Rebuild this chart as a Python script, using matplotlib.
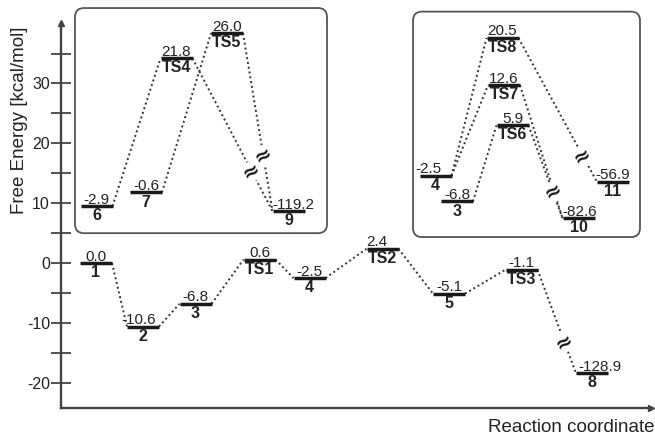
import matplotlib
matplotlib.use("Agg")
import matplotlib.pyplot as plt
from matplotlib.patches import FancyBboxPatch
import numpy as np

plt.rcParams['font.family'] = ['Liberation Sans', 'DejaVu Sans']

# ---------------- data ----------------
# main pathway
main_names = ['1', '2', '3', 'TS1', '4', 'TS2', '5', 'TS3', '8']
main_values = [0.0, -10.6, -6.8, 0.6, -2.5, 2.4, -5.1, -1.1, -128.9]
main_plot_y = [0.0, -10.6, -6.8, 0.6, -2.5, 2.4, -5.1, -1.1, -18.4]   # 8 drawn with axis break
main_x = [35, 82, 134.5, 198.5, 248.5, 321.5, 388, 460.5, 531]
main_links = [(0, 1), (1, 2), (2, 3), (3, 4), (4, 5), (5, 6), (6, 7), (7, 8)]
main_breaks = [(7, 8, 0.70)]

# left inset
left_names = ['6', '7', 'TS4', 'TS5', '9']
left_values = [-2.9, -0.6, 21.8, 26.0, -119.2]
left_plot_y = [-2.9, -0.6, 21.8, 26.0, -3.7]
left_x = [35.5, 85, 115.5, 166, 227.5]
left_offset = 12.4
left_links = [(0, 2), (1, 3), (2, 4), (3, 4)]
left_breaks = [(2, 4, 0.74), (3, 4, 0.69)]

# right inset
right_names = ['4', '3', 'TS8', 'TS7', 'TS6', '10', '11']
right_values = [-2.5, -6.8, 20.5, 12.6, 5.9, -82.6, -56.9]
right_plot_y = [-2.5, -6.8, 20.5, 12.6, 5.9, -9.6, -3.55]
right_x = [374.5, 396, 441.5, 443, 451.5, 517.5, 552]
right_offset = 17.1
right_links = [(0, 2), (0, 3), (1, 4), (2, 6), (3, 5), (4, 5)]
right_breaks = [(2, 6, 0.82), (3, 5, 0.80)]

y_major = [-20, -10, 0, 10, 20, 30]
y_minor = [-15, -5, 5, 15, 25, 35]

# ---------------- figure ----------------
W, H = 655, 437
fig = plt.figure(figsize=(W / 100, H / 100), dpi=100)
ax = fig.add_axes([61 / W, (H - 408) / H, (651 - 61) / W, (408 - 23) / H])
ax.set_xlim(0, 590)
ax.set_ylim(-24.2, 40.1)

axcol = '#444444'
for s in ['top', 'right']:
    ax.spines[s].set_visible(False)
for s in ['left', 'bottom']:
    ax.spines[s].set_color(axcol)
    ax.spines[s].set_linewidth(1.7)
ax.plot(1, 0, '>', color=axcol, ms=5, transform=ax.transAxes, clip_on=False)
ax.plot(0, 1, '^', color=axcol, ms=5, transform=ax.transAxes, clip_on=False)

ax.set_xticks([])
ax.set_yticks(y_major)
ax.set_yticks(y_minor, minor=True)
ax.set_yticklabels([str(v) for v in y_major])
ax.tick_params(axis='y', which='both', direction='inout', length=15, width=1.2,
               color='#333333', labelsize=11.5, labelcolor='#222222', pad=0.5)

fig.text(20 / W, 1 - 120 / H, 'Free Energy [kcal/mol]', rotation=90,
         ha='center', va='center', fontsize=13.5, color='#222222')
fig.text(655 / W, 1 - 428 / H, 'Reaction coordinate', ha='right', va='center',
         fontsize=13.5, color='#222222')

# inset boxes
px_per_y = 385 / (40.1 + 24.2)
for (x0, x1, y0, y1) in [(14, 266, 5.0, 42.6), (352, 579, 4.35, 42.0)]:
    box = FancyBboxPatch((x0, y0), x1 - x0, y1 - y0,
                         boxstyle='round,pad=0,rounding_size=9',
                         mutation_aspect=1 / px_per_y,
                         fc='none', ec='#555555', lw=1.3, clip_on=False, zorder=1)
    ax.add_patch(box)

HW = 16
lvl_col = '#1a1a1a'
dot_col = '#333333'

label_align = {('main', '-10.6'): ('right', -2),
               ('main', '2.4'): ('center', -4),
               ('main', '-128.9'): ('left', 2),
               ('left', '-119.2'): ('left', 0),
               ('right', '-82.6'): ('left', 0),
               ('right', '-2.5'): ('center', -5)}


def draw(tag, names, values, plot_y, xs, offset, links, breaks):
    ys = [v + offset for v in plot_y]
    for (a, b) in links:
        ax.plot([xs[a] + HW, xs[b] - HW], [ys[a], ys[b]], color=dot_col, lw=1.4,
                ls=(0, (1, 1.5)), zorder=2)
    for (a, b, f) in breaks:
        x0, y0 = xs[a] + HW, ys[a]
        x1, y1 = xs[b] - HW, ys[b]
        ax.text(x0 + f * (x1 - x0), y0 + f * (y1 - y0), '\u2248', fontsize=15,
                fontweight='bold', rotation=30, ha='center', va='center',
                color='#1a1a1a', zorder=4, family='DejaVu Sans',
                bbox=dict(fc='white', ec='none', pad=0))
    for n, v, x, y in zip(names, values, xs, ys):
        ax.plot([x - HW, x + HW], [y, y], color=lvl_col, lw=2.5,
                solid_capstyle='butt', zorder=3)
        vt = f'{v:.1f}'
        ha, dx = label_align.get((tag, vt), ('center', 0))
        xa = {'center': x, 'left': x - HW, 'right': x + HW}[ha]
        ax.annotate(vt, (xa, y), xytext=(dx, 1.8), textcoords='offset points',
                    ha=ha, va='baseline', fontsize=11, color='#222222', zorder=5)
        ax.annotate(n, (x, y), xytext=(0, -1.5), textcoords='offset points',
                    ha='center', va='top', fontsize=11.5, fontweight='bold',
                    color='#222222', zorder=5)


draw('main', main_names, main_values, main_plot_y, main_x, 0.0, main_links, main_breaks)
draw('left', left_names, left_values, left_plot_y, left_x, left_offset, left_links, left_breaks)
draw('right', right_names, right_values, right_plot_y, right_x, right_offset, right_links, right_breaks)

fig.savefig('out.png', dpi=100)
